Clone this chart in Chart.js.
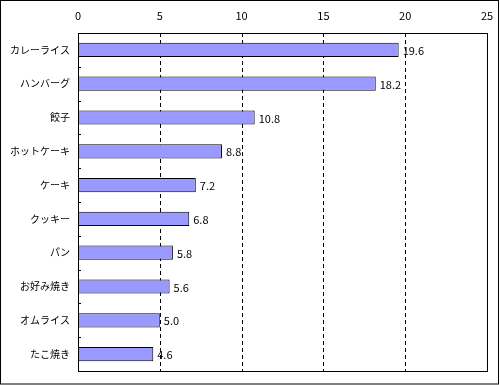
<!DOCTYPE html>
<html lang="ja">
<head>
  <meta charset="UTF-8" />
  <title>好きな料理</title>
  <script src="https://cdn.jsdelivr.net/npm/chart.js"></script>
  <style>
    html, body { margin: 0; padding: 0; background: #fff; }
    #wrap { width: 500px; height: 385px; }
  </style>
</head>
<body>
  <div id="wrap"><canvas id="grafico" width="500" height="385"></canvas></div>

  <script>
    // categorias e valores
    const categorias = ['カレーライス', 'ハンバーグ', '餃子', 'ホットケーキ', 'ケーキ', 'クッキー', 'パン', 'お好み焼き', 'オムライス', 'たこ焼き'];
    const valores = [19.6, 18.2, 10.8, 8.8, 7.2, 6.8, 5.8, 5.6, 5.0, 4.6];
    const ticksX = [0, 5, 10, 15, 20, 25];

    const familia = "'Noto Sans CJK JP', 'Noto Sans', sans-serif";
    const fonteNum = { family: familia, size: 11 };
    const fonteCat = { family: familia, size: 10 };

    // grade tracejada, borda da área, tracinhos do eixo y e rótulos dos valores
    const extras = {
      id: 'extras',
      beforeDatasetsDraw(chart) {
        const { ctx, scales } = chart;
        const x = scales.x, y = scales.y;
        ctx.save();
        ctx.strokeStyle = '#000';
        ctx.lineWidth = 1;
        ctx.setLineDash([4, 3]);
        ticksX.slice(1, -1).forEach(v => {
          const px = Math.round(x.getPixelForValue(v)) + 0.5;
          ctx.beginPath();
          ctx.moveTo(px, y.top);
          ctx.lineTo(px, y.bottom);
          ctx.stroke();
        });
        ctx.restore();
      },
      afterDatasetsDraw(chart) {
        const { ctx, scales } = chart;
        const x = scales.x, y = scales.y;
        ctx.save();
        // rótulos de valor
        ctx.font = `${fonteNum.size}px ${fonteNum.family}`;
        ctx.fillStyle = '#000';
        ctx.textBaseline = 'middle';
        chart.getDatasetMeta(0).data.forEach((bar, i) => {
          ctx.fillText(valores[i].toFixed(1), bar.x + 4, bar.y + 1);
        });
        // borda da área do gráfico
        const l = Math.round(x.getPixelForValue(0)), r = Math.round(x.getPixelForValue(25));
        const t = Math.round(y.top), b = Math.round(y.bottom);
        ctx.strokeStyle = '#000';
        ctx.lineWidth = 1;
        ctx.strokeRect(l + 0.5, t + 0.5, r - l, b - t);
        // tracinhos entre categorias
        for (let i = 1; i < categorias.length; i++) {
          const py = Math.round((y.getPixelForValue(i - 1) + y.getPixelForValue(i)) / 2) + 0.5;
          ctx.beginPath();
          ctx.moveTo(l, py);
          ctx.lineTo(l + 3, py);
          ctx.stroke();
        }
        ctx.restore();
      },
      afterDraw(chart) {
        const ctx = chart.ctx;
        ctx.save();
        ctx.strokeStyle = '#000';
        ctx.lineWidth = 1;
        ctx.strokeRect(0.5, 0.5, 498, 383.5);
        ctx.restore();
      }
    };

    new Chart(document.getElementById('grafico'), {
      type: 'bar',
      data: {
        labels: categorias,
        datasets: [{
          data: valores,
          backgroundColor: '#9999FF',
          borderColor: '#000',
          borderWidth: 1,
          borderSkipped: false,
          categoryPercentage: 1,
          barPercentage: 0.42
        }]
      },
      options: {
        indexAxis: 'y',
        responsive: false,
        animation: false,
        layout: { padding: { left: 0, top: 0, right: 13, bottom: 5 } },
        plugins: { legend: { display: false }, tooltip: { enabled: false } },
        scales: {
          x: {
            position: 'top',
            min: 0,
            max: 25,
            afterBuildTicks: s => { s.ticks = ticksX.map(v => ({ value: v })); },
            afterFit: s => { s.height = 33; s.paddingLeft = 0; s.paddingRight = 0; },
            ticks: { color: '#000', font: fonteNum, padding: 11 },
            grid: { display: false, drawTicks: false },
            border: { display: false }
          },
          y: {
            afterFit: s => { s.width = 78; },
            ticks: { color: '#000', font: fonteCat, padding: 8 },
            grid: { display: false, drawTicks: false },
            border: { display: false }
          }
        }
      },
      plugins: [extras]
    });
  </script>
</body>
</html>
